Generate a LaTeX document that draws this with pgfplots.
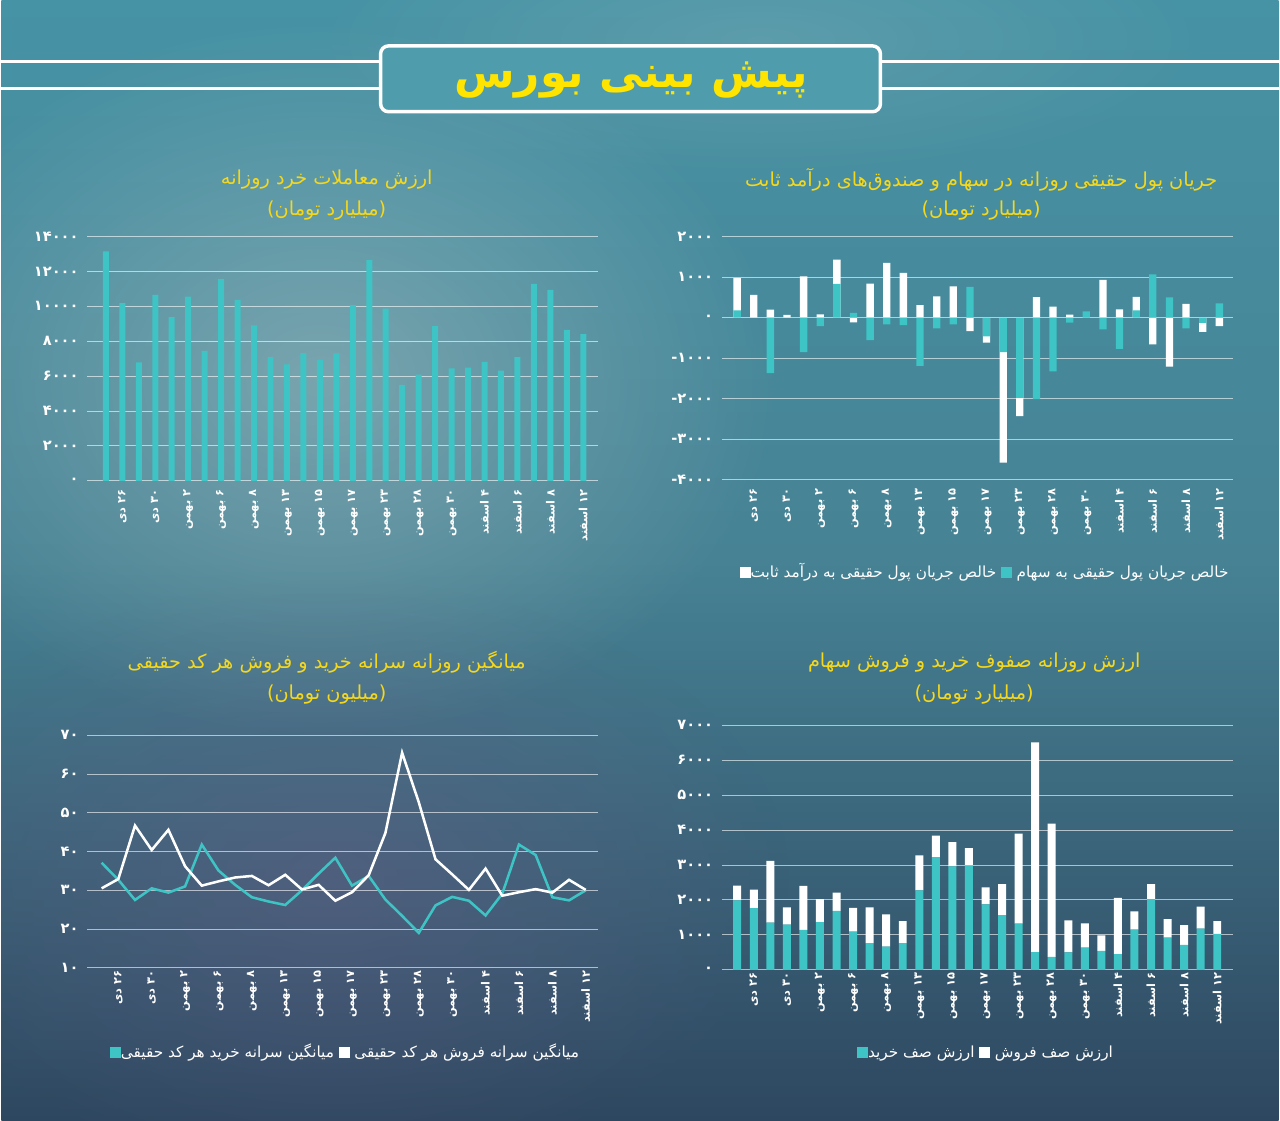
\documentclass[border=0pt]{standalone}
\usepackage{pgfplots}
\pgfplotsset{compat=1.18}
\usetikzlibrary{fadings}
\usepackage{fontspec}
\setmainfont{DejaVu Sans}
\newfontfamily\fa[Script=Arabic]{DejaVu Sans}
\TeXXeTstate=1
\newcommand\R[1]{\beginR#1\endR}
\newcommand\NEG[1]{\mbox{-}\mbox{#1}}
\definecolor{bgtop}{HTML}{4693A5}
\definecolor{bgmid}{HTML}{468294}
\definecolor{bgbot}{HTML}{2E4760}
\definecolor{tealbar}{HTML}{3EC4C4}
\definecolor{ttl}{HTML}{F5D71C}
\definecolor{maintitle}{HTML}{FFE400}
\definecolor{boxfill}{HTML}{4F9DAC}
\definecolor{haze}{HTML}{B8C8C8}
\definecolor{purp}{HTML}{6A5E86}
\tikzfading[name=softglow, inner color=transparent!0, outer color=transparent!100]
\pgfplotsset{
  base/.style={scale only axis, anchor=south west,
    width=384pt,
    axis line style={draw=none},
    scaled y ticks=false,
    ymajorgrids, major grid style={white, opacity=0.6, line width=0.7pt},
    tick style={draw=none},
    xtick={1,3,...,29},
    xticklabels={\R{۲۶ دی},\R{۳۰ دی},\R{۲ بهمن},\R{۶ بهمن},\R{۸ بهمن},\R{۱۳ بهمن},\R{۱۵ بهمن},\R{۱۷ بهمن},\R{۲۳ بهمن},\R{۲۸ بهمن},\R{۳۰ بهمن},\R{۴ اسفند},\R{۶ اسفند},\R{۸ اسفند},\R{۱۲ اسفند}},
    x tick label style={rotate=90, anchor=east, font=\fa\bfseries\fontsize{8.5}{9}\selectfont, text=white, inner sep=2pt},
    y tick label style={font=\fa\bfseries\fontsize{11}{12}\selectfont, text=white, xshift=-3pt},
  }
}
\begin{document}
\begin{tikzpicture}[x=0.75pt,y=0.75pt]
% background
\shade[top color=bgtop, bottom color=bgbot, middle color=bgmid] (0,0) rectangle (1280,1123);
\begin{scope}
\clip (0,0) rectangle (1280,1123);
\fill[haze, opacity=0.45, path fading=softglow] (320,{1123-380}) ellipse (460 and 360);
\fill[purp, opacity=0.45, path fading=softglow] (330,{1123-880}) ellipse (460 and 300);
\fill[haze, opacity=0.2, path fading=softglow] (760,{1123-40}) ellipse (450 and 140);
\end{scope}
% header
\draw[white, line width=2.2pt] (0,{1123-62}) -- (378,{1123-62});
\draw[white, line width=2.2pt] (0,{1123-89}) -- (378,{1123-89});
\draw[white, line width=2.2pt] (882,{1123-62}) -- (1280,{1123-62});
\draw[white, line width=2.2pt] (882,{1123-89}) -- (1280,{1123-89});
\draw[white, line width=2.6pt, fill=boxfill, rounded corners=6pt] (380,{1123-46}) rectangle (881,{1123-112});
\node[text=maintitle, font=\fa\bfseries\fontsize{33}{35}\selectfont] at (631,{1123-80}) {\R{پیش بینی بورس}};
% titles
\tikzset{ttlstyle/.style={text=ttl, font=\fa\fontsize{14.5}{16}\selectfont}}
\node[ttlstyle] at (326,{1123-180}) {\R{ارزش معاملات خرد روزانه}};
\node[ttlstyle] at (326,{1123-211}) {\R{(میلیارد تومان)}};
\node[ttlstyle] at (982,{1123-180}) {\R{جریان پول حقیقی روزانه در سهام و صندوق‌های درآمد ثابت}};
\node[ttlstyle] at (982,{1123-211}) {\R{(میلیارد تومان)}};
\node[ttlstyle] at (326,{1123-664}) {\R{میانگین روزانه سرانه خرید و فروش هر کد حقیقی}};
\node[ttlstyle] at (326,{1123-696}) {\R{(میلیون تومان)}};
\node[ttlstyle] at (975,{1123-664}) {\R{ارزش روزانه صفوف خرید و فروش سهام}};
\node[ttlstyle] at (975,{1123-696}) {\R{(میلیارد تومان)}};

% chart 1
\begin{axis}[base, at={({86*0.75pt},{(1123-482)*0.75pt})}, height=183.75pt,
  xmin=-1.13, xmax=29.9, ymin=0, ymax=14000,
  ytick={0,2000,...,14000},
  yticklabels={۰,۲۰۰۰,۴۰۰۰,۶۰۰۰,۸۰۰۰,۱۰۰۰۰,۱۲۰۰۰,۱۴۰۰۰},
  ybar, bar width=4.5pt, bar shift=0pt]
\addplot[fill=tealbar, draw=none] coordinates {
(0,13150) (1,10180) (2,6790) (3,10650) (4,9380) (5,10560) (6,7450) (7,11550) (8,10370) (9,8910)
(10,7090) (11,6670) (12,7320) (13,6940) (14,7300) (15,10070) (16,12650) (17,9860) (18,5500) (19,6090)
(20,8870) (21,6450) (22,6480) (23,6810) (24,6310) (25,7090) (26,11280) (27,10940) (28,8650) (29,8400)};
\end{axis}

% chart 2
\begin{axis}[base, at={({722*0.75pt},{(1123-481)*0.75pt})}, height=183pt,
  xmin=-0.92, xmax=29.8, ymin=-4000, ymax=2000,
  ytick={-4000,-3000,...,2000},
  yticklabels={\NEG{۴۰۰۰},\NEG{۳۰۰۰},\NEG{۲۰۰۰},\NEG{۱۰۰۰},۰,۱۰۰۰,۲۰۰۰},
  ybar, bar width=5.5pt, bar shift=0pt]
% white: end of the stacked bar (stock + fixed income when same sign, else fixed income alone)
\addplot[fill=white, draw=none] coordinates {
(0,970) (1,560) (2,195) (3,65) (4,1015) (5,80) (6,1430) (7,-120) (8,837) (9,1350)
(10,1105) (11,309) (12,520) (13,772) (14,-333) (15,-618) (16,-3577) (17,-2431) (18,504) (19,268)
(20,73) (21,0) (22,927) (23,203) (24,512) (25,-659) (26,-1211) (27,341) (28,-350) (29,-211)};
\addplot[fill=tealbar, draw=none] coordinates {
(0,180) (1,0) (2,-1370) (3,0) (4,-850) (5,-210) (6,830) (7,115) (8,-553) (9,-170)
(10,-187) (11,-1187) (12,-268) (13,-170) (14,756) (15,-463) (16,-854) (17,-1976) (18,-2008) (19,-1325)
(20,-122) (21,155) (22,-293) (23,-772) (24,180) (25,1065) (26,496) (27,-268) (28,-130) (29,350)};
\end{axis}

% chart 3
\begin{axis}[base, at={({86*0.75pt},{(1123-970)*0.75pt})}, height=174.75pt,
  xmin=-0.86, xmax=29.74, ymin=10, ymax=70,
  ytick={10,20,...,70},
  yticklabels={۱۰,۲۰,۳۰,۴۰,۵۰,۶۰,۷۰}]
\addplot[tealbar, line width=1.9pt, mark=none] coordinates {
(0,37.1) (1,32.7) (2,27.5) (3,30.5) (4,29.4) (5,31.0) (6,41.8) (7,35.1) (8,31.4) (9,28.2)
(10,27.1) (11,26.2) (12,30.0) (13,34.3) (14,38.4) (15,31.2) (16,33.7) (17,27.6) (18,23.4) (19,19.0)
(20,26.1) (21,28.3) (22,27.3) (23,23.5) (24,29.1) (25,41.8) (26,39.1) (27,28.2) (28,27.4) (29,30.0)};
\addplot[white, line width=1.9pt, mark=none] coordinates {
(0,30.5) (1,32.9) (2,46.7) (3,40.4) (4,45.6) (5,36.2) (6,31.2) (7,32.3) (8,33.3) (9,33.7)
(10,31.3) (11,34.0) (12,30.2) (13,31.4) (14,27.3) (15,29.5) (16,33.9) (17,44.8) (18,65.5) (19,52.7)
(20,38.0) (21,34.1) (22,30.1) (23,35.6) (24,28.6) (25,29.5) (26,30.3) (27,29.4) (28,32.7) (29,30.1)};
\end{axis}

% chart 4
\begin{axis}[base, at={({722*0.75pt},{(1123-972)*0.75pt})}, height=183.75pt,
  xmin=-0.93, xmax=29.93, ymin=0, ymax=7000,
  ytick={0,1000,...,7000},
  yticklabels={۰,۱۰۰۰,۲۰۰۰,۳۰۰۰,۴۰۰۰,۵۰۰۰,۶۰۰۰,۷۰۰۰},
  ybar stacked, bar width=6pt]
\addplot[fill=tealbar, draw=none] coordinates {
(0,1990) (1,1765) (2,1350) (3,1290) (4,1140) (5,1365) (6,1690) (7,1090) (8,760) (9,665)
(10,760) (11,2270) (12,3225) (13,2960) (14,2990) (15,1870) (16,1565) (17,1320) (18,505) (19,370)
(20,495) (21,635) (22,540) (23,445) (24,1150) (25,2020) (26,920) (27,710) (28,1175) (29,1025)};
\addplot[fill=white, draw=none] coordinates {
(0,420) (1,530) (2,1770) (3,495) (4,1260) (5,655) (6,520) (7,685) (8,1025) (9,920)
(10,635) (11,1005) (12,615) (13,695) (14,490) (15,490) (16,885) (17,2580) (18,6005) (19,3815)
(20,920) (21,695) (22,445) (23,1615) (24,520) (25,435) (26,530) (27,570) (28,635) (29,370)};
\end{axis}

% legends
\tikzset{legstyle/.style={text=white, font=\fa\fontsize{11.5}{13}\selectfont}}
\node[legstyle] at (985,{1123-574}) {\textcolor{white}{\rule{8pt}{8pt}}\R{خالص جریان پول حقیقی به درآمد ثابت}\ \textcolor{tealbar}{\rule{8pt}{8pt}}\ \R{خالص جریان پول حقیقی به سهام}};
\node[legstyle] at (344,{1123-1055}) {\textcolor{tealbar}{\rule{8pt}{8pt}}\R{میانگین سرانه خرید هر کد حقیقی}\ \textcolor{white}{\rule{8pt}{8pt}}\ \R{میانگین سرانه فروش هر کد حقیقی}};
\node[legstyle] at (986,{1123-1056}) {\textcolor{tealbar}{\rule{8pt}{8pt}}\R{ارزش صف خرید}\ \textcolor{white}{\rule{8pt}{8pt}}\ \R{ارزش صف فروش}};
\end{tikzpicture}
\end{document}
